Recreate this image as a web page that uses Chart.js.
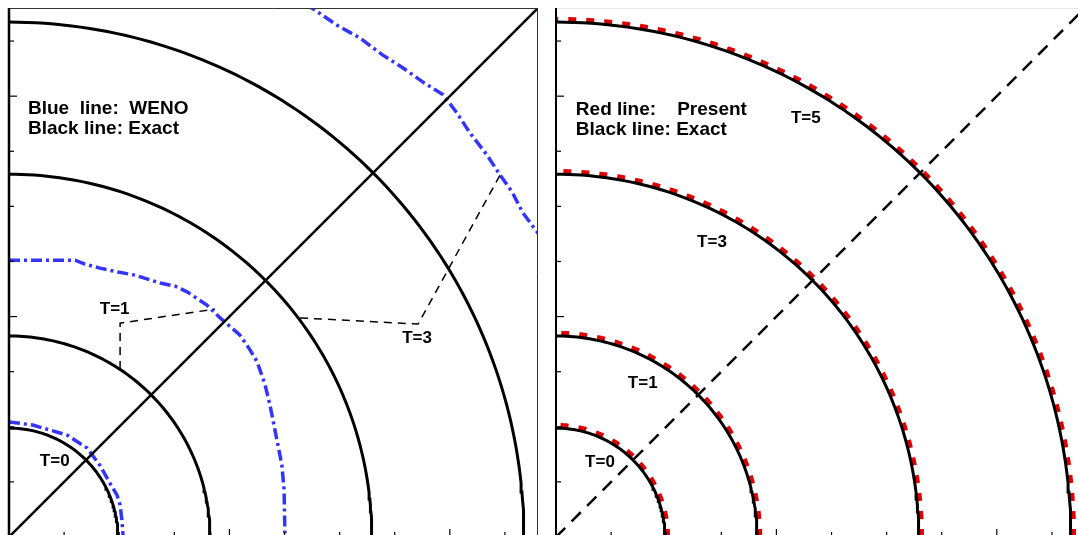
<!DOCTYPE html>
<html>
<head>
<meta charset="utf-8">
<title>Shock front: WENO vs Present</title>
<script src="https://cdn.jsdelivr.net/npm/chart.js@4.4.1/dist/chart.umd.min.js"></script>
<style>
  html, body { margin: 0; padding: 0; background: #fff; overflow: hidden; }
  #wrap { position: relative; width: 1078px; height: 535px; overflow: hidden; background: #fff; }
  #wrap canvas { position: absolute; top: 0; }
  #left { left: 0; }
  #right { left: 547px; }
</style>
</head>
<body>
<div id="wrap">
  <canvas id="left" width="548" height="547"></canvas>
  <canvas id="right" width="548" height="547"></canvas>
</div>
<script>
// axis range and ticks (no tick labels are visible in the picture)
const axisMin = 0;
const axisMax = 1.2;
const majorTicks = [0, 0.5, 1.0];
const minorTicks = [0.125, 0.25, 0.375, 0.625, 0.75, 0.875, 1.125];

// exact solution: front radius at each time
const exactTimes = ['T=0', 'T=1', 'T=3', 'T=5'];
const exactRadius = [0.247, 0.456, 0.823, 1.168];
// present method, read just outside the exact fronts
const presentRadius = [0.252, 0.461, 0.828, 1.173];

// WENO fronts (blue)
const wenoT0X = [0, 0.054, 0.132, 0.177, 0.206, 0.229, 0.245, 0.252, 0.256, 0.259];
const wenoT0Y = [0.261, 0.254, 0.231, 0.202, 0.163, 0.122, 0.095, 0.073, 0.039, 0];
const wenoT1X = [0, 0.150, 0.172, 0.206, 0.247, 0.286, 0.343, 0.377, 0.404, 0.449, 0.479,
                 0.524, 0.547, 0.563, 0.581, 0.592, 0.601, 0.610, 0.619, 0.624, 0.626];
const wenoT1Y = [0.628, 0.628, 0.619, 0.610, 0.601, 0.594, 0.576, 0.569, 0.556, 0.526, 0.497,
                 0.458, 0.424, 0.397, 0.345, 0.299, 0.254, 0.209, 0.163, 0.107, 0];
const wenoT3X = [0.680, 0.687, 0.744, 0.796, 0.848, 0.894, 0.939, 0.985, 1.016, 1.046,
                 1.084, 1.114, 1.141, 1.166, 1.198, 1.210];
const wenoT3Y = [1.215, 1.200, 1.161, 1.132, 1.093, 1.064, 1.032, 1.003, 0.962, 0.916,
                 0.867, 0.821, 0.783, 0.735, 0.692, 0.675];

// diagonal cut and the dashed pointers that pair the T=1 / T=3 fronts
const diagonalX = [0, 1.2];
const diagonalY = [0, 1.2];
const pointerT1X = [0.252, 0.252, 0.345, 0.467];
const pointerT1Y = [0.381, 0.485, 0.499, 0.517];
const pointerT3X = [0.660, 0.928, 1.114];
const pointerT3Y = [0.497, 0.483, 0.821];

const BLUE = '#3434ff';
const RED = 'rgb(222,0,0)';

function zip(xs, ys) {
    return xs.map((x, i) => ({ x: x, y: ys[i] }));
}

// quarter circle centred on the origin
function arcPoints(r) {
    const pts = [];
    for (let deg = 0; deg <= 90; deg++) {
        const a = deg * Math.PI / 180;
        pts.push({ x: r * Math.cos(a), y: r * Math.sin(a) });
    }
    return pts;
}

function lineSet(data, color, width, dash, order) {
    return {
        data: data,
        showLine: true,
        borderColor: color,
        borderWidth: width,
        borderDash: dash || [],
        pointRadius: 0,
        pointHoverRadius: 0,
        fill: false,
        tension: 0,
        clip: 0,
        order: order
    };
}

// frame, inward ticks and text, placed through the chart scales
function decorPlugin(opts) {
    return {
        id: 'decor',
        afterDatasetsDraw(chart) {
            const ctx = chart.ctx;
            const a = chart.chartArea;
            const x = chart.scales.x;
            const y = chart.scales.y;
            ctx.save();

            // top / right border
            ctx.strokeStyle = opts.borderColor;
            ctx.lineWidth = 1;
            ctx.beginPath();
            ctx.moveTo(a.left, a.top + 0.5);
            ctx.lineTo(a.right, a.top + 0.5);
            ctx.stroke();
            if (opts.rightBorder) {
                ctx.beginPath();
                ctx.moveTo(a.right - 0.5, a.top);
                ctx.lineTo(a.right - 0.5, a.bottom);
                ctx.stroke();
            }

            // ticks
            ctx.strokeStyle = '#000';
            ctx.lineWidth = 1.2;
            const drawTicks = (vals, len) => {
                vals.forEach(v => {
                    const py = y.getPixelForValue(v);
                    ctx.beginPath();
                    ctx.moveTo(a.left, py);
                    ctx.lineTo(a.left + len, py);
                    ctx.stroke();
                    const px = x.getPixelForValue(v);
                    ctx.beginPath();
                    ctx.moveTo(px, a.bottom);
                    ctx.lineTo(px, a.bottom - len);
                    ctx.stroke();
                });
            };
            drawTicks(majorTicks, 8);
            drawTicks(minorTicks, 5);

            // left and bottom axis
            ctx.strokeStyle = '#000';
            ctx.lineWidth = opts.axisWidth;
            ctx.beginPath();
            ctx.moveTo(a.left, a.top);
            ctx.lineTo(a.left, a.bottom);
            ctx.lineTo(a.right, a.bottom);
            ctx.stroke();

            // text
            ctx.fillStyle = '#000';
            ctx.textAlign = 'left';
            ctx.textBaseline = 'alphabetic';
            opts.texts.forEach(t => {
                ctx.font = 'bold ' + t.size + 'px "Liberation Sans", Arial, sans-serif';
                ctx.fillText(t.text, x.getPixelForValue(t.x), y.getPixelForValue(t.y));
            });
            ctx.restore();
        }
    };
}

function baseOptions() {
    return {
        responsive: false,
        animation: false,
        devicePixelRatio: 1,
        layout: { padding: { left: 9, top: 8, right: 10, bottom: 10 } },
        plugins: { legend: { display: false }, tooltip: { enabled: false } },
        events: [],
        scales: {
            x: { type: 'linear', min: axisMin, max: axisMax, display: false },
            y: { type: 'linear', min: axisMin, max: axisMax, display: false }
        }
    };
}

const whiteBg = {
    id: 'whiteBg',
    beforeDraw(chart) {
        const ctx = chart.ctx;
        ctx.save();
        ctx.fillStyle = '#fff';
        ctx.fillRect(0, 0, chart.width, chart.height);
        ctx.restore();
    }
};

// ---- left panel: WENO ----
const leftSets = [];
exactRadius.forEach(r => leftSets.push(lineSet(arcPoints(r), '#000', 3, null, 1)));
leftSets.push(lineSet(zip(wenoT0X, wenoT0Y), BLUE, 3.5, [11, 4, 3, 4], 2));
leftSets.push(lineSet(zip(wenoT1X, wenoT1Y), BLUE, 3.5, [11, 4, 3, 4], 2));
leftSets.push(lineSet(zip(wenoT3X, wenoT3Y), BLUE, 3.5, [11, 4, 3, 4], 2));
leftSets.push(lineSet(zip(diagonalX, diagonalY), '#000', 2.5, null, 0));
leftSets.push(lineSet(zip(pointerT1X, pointerT1Y), '#000', 1.5, [8, 6], 0));
leftSets.push(lineSet(zip(pointerT3X, pointerT3Y), '#000', 1.5, [8, 6], 0));

new Chart(document.getElementById('left'), {
    type: 'scatter',
    data: { datasets: leftSets },
    options: baseOptions(),
    plugins: [whiteBg, decorPlugin({
        borderColor: '#333',
        rightBorder: true,
        axisWidth: 2.5,
        texts: [
            { text: 'Blue  line:  WENO', x: 0.043, y: 0.960, size: 19 },
            { text: 'Black line: Exact', x: 0.043, y: 0.914, size: 19 },
            { text: exactTimes[1], x: 0.206, y: 0.506, size: 17 },
            { text: exactTimes[2], x: 0.892, y: 0.440, size: 17 },
            { text: exactTimes[0], x: 0.070, y: 0.161, size: 17 }
        ]
    })]
});

// ---- right panel: Present ----
const rightSets = [];
presentRadius.forEach(r => rightSets.push(lineSet(arcPoints(r), RED, 6, [8, 10], 2)));
exactRadius.forEach(r => rightSets.push(lineSet(arcPoints(r), '#000', 3, null, 1)));
rightSets.push(lineSet(zip(diagonalX, diagonalY), '#000', 2.5, [13, 9], 0));

new Chart(document.getElementById('right'), {
    type: 'scatter',
    data: { datasets: rightSets },
    options: baseOptions(),
    plugins: [whiteBg, decorPlugin({
        borderColor: '#e4e4e4',
        rightBorder: false,
        axisWidth: 2,
        texts: [
            { text: 'Red line:    Present', x: 0.045, y: 0.957, size: 19 },
            { text: 'Black line: Exact', x: 0.045, y: 0.912, size: 19 },
            { text: exactTimes[3], x: 0.533, y: 0.939, size: 17 },
            { text: exactTimes[2], x: 0.320, y: 0.658, size: 17 },
            { text: exactTimes[1], x: 0.163, y: 0.338, size: 17 },
            { text: exactTimes[0], x: 0.066, y: 0.159, size: 17 }
        ]
    })]
});
</script>
</body>
</html>
